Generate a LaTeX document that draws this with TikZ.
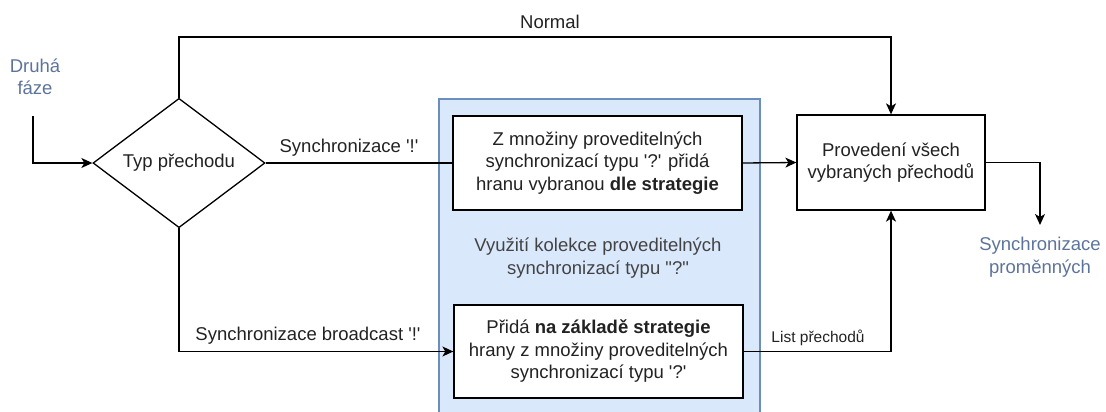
\documentclass[tikz,border=0pt]{standalone}
\usepackage{fontspec}
\setmainfont{Liberation Sans}
\usetikzlibrary{arrows.meta,shapes.geometric}
\definecolor{txt}{RGB}{34,34,34}
\definecolor{note}{RGB}{92,116,156}
\definecolor{grpfill}{RGB}{218,232,252}
\definecolor{grpline}{RGB}{108,142,191}
\newcommand{\sq}{\textquotesingle}
\newcommand{\dq}{\textquotedbl}
\tikzset{
  base/.style={font=\fontsize{18.5}{22.5}\selectfont, text=txt, align=center},
  procbox/.style={base, draw=black, line width=1.3pt, fill=white, minimum width=289pt, minimum height=94pt, inner sep=2pt},
  decision/.style={base, diamond, draw=black, line width=1.3pt, fill=white, minimum width=172pt, minimum height=125pt, inner sep=0pt},
  plain/.style={base},
  small/.style={base, font=\fontsize{15.5}{19}\selectfont},
  notetext/.style={base, text=note},
  flow/.style={draw=black, line width=1.3pt},
  arr/.style={flow, -{Stealth[length=11pt, width=10pt, inset=3pt]}},
}
\begin{document}
\begin{tikzpicture}[x=1pt, y=-1pt]
  \useasboundingbox (0,0) rectangle (1106,412);
  \clip (0,0) rectangle (1106,412);

  % group container for the '?' synchronisations
  \node[draw=grpline, fill=grpfill, line width=2.4pt, minimum width=321pt, minimum height=340pt, anchor=north west, inner sep=0pt] (grp) at (438,98) {};
  \node[notetext, text=txt!85] (grptext) at (598,258) {Využití kolekce proveditelných\\synchronizací typu \dq?\dq};

  % nodes
  \node[notetext] (phase) at (35,77) {Druhá\\fáze};
  \coordinate (start) at (33,116);
  \node[decision] (typ) at (179,163) {Typ přechodu};
  \node[procbox] (single) at (597.5,163) {Z množiny proveditelných\\synchronizací typu \sq?\sq{} přidá\\hranu vybranou \textbf{dle strategie}};
  \node[procbox, minimum height=93pt] (bcast) at (598.5,351.5) {Přidá \textbf{na základě strategie}\\hrany z množiny proveditelných\\synchronizací typu \sq?\sq};
  \node[procbox, minimum width=188pt, minimum height=95pt] (exec) at (891,162.5) {Provedení všech\\vybraných přechodů};
  \coordinate (top) at (179,37);
  \coordinate (out) at (1040,225);
  \node[notetext] (vars) at (1040,257) {Synchronizace\\proměnných};

  % connectors
  \draw[arr] (start) |- (typ.west);
  \draw[arr] (typ.north) -- (top) -| (exec.north);
  \draw[flow] (typ.east) -- (single.west);
  \draw[arr] (single.east) -- (exec.west);
  \draw[arr] (typ.south) |- (bcast.west);
  \draw[arr] (bcast.east) -| (exec.south);
  \draw[arr] (exec.east) -| (out);

  % connector labels
  \node[plain] (lnormal) at (550,22) {Normal};
  \node[plain] (lsync) at (349,148) {Synchronizace \sq!\sq};
  \node[plain] (lbcast) at (308,336) {Synchronizace broadcast \sq!\sq};
  \node[small] (llist) at (818,338) {List přechodů};
\end{tikzpicture}
\end{document}
